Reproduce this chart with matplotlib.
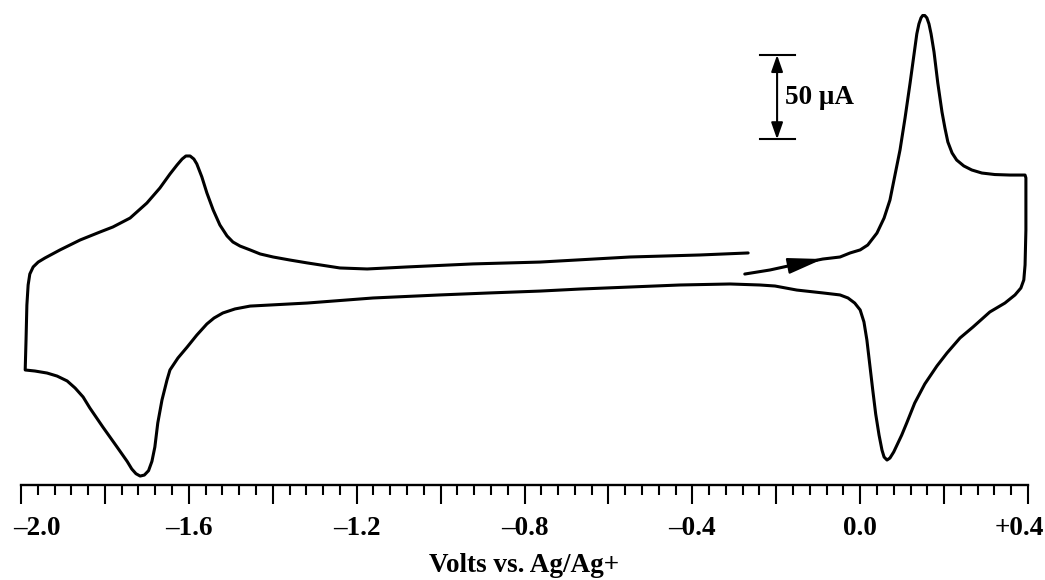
import matplotlib
matplotlib.use("Agg")
import matplotlib.pyplot as plt
from matplotlib.ticker import FixedLocator, FixedFormatter
from matplotlib.patches import ArrowStyle
from matplotlib.transforms import ScaledTranslation

# Cyclic voltammogram, scan order (start near -0.27 V, anodic first)
potential_V = [
    -0.275, -0.215, -0.160, -0.089, -0.048, -0.024, 0.000, 0.018, 0.040, 0.057,
    0.071, 0.083, 0.095, 0.107, 0.119, 0.128, 0.135, 0.140, 0.145, 0.149,
    0.154, 0.159, 0.164, 0.169, 0.176, 0.185, 0.195, 0.202, 0.209, 0.219,
    0.230, 0.247, 0.266, 0.290, 0.321, 0.357, 0.393,
    0.395, 0.395, 0.393, 0.390, 0.383,
    0.369, 0.345, 0.309, 0.269, 0.238, 0.207, 0.183, 0.154, 0.130, 0.111,
    0.099, 0.090, 0.080, 0.071, 0.064, 0.057, 0.052, 0.045, 0.037, 0.030,
    0.023, 0.016, 0.009, 0.000, -0.013, -0.029, -0.048, -0.089, -0.151, -0.203,
    -0.239, -0.310, -0.430, -0.549, -0.668, -0.763, -0.882, -1.002, -1.161, -1.318,
    -1.407, -1.454, -1.490, -1.519, -1.540, -1.557, -1.581, -1.604, -1.626, -1.645,
    -1.652, -1.664, -1.674, -1.681, -1.688, -1.696, -1.706, -1.716, -1.726, -1.736,
    -1.747, -1.771, -1.805, -1.836, -1.852, -1.871, -1.890, -1.914, -1.938, -1.967, -1.990,
    -1.988, -1.986, -1.983, -1.979, -1.971, -1.959, -1.943, -1.907, -1.859, -1.812,
    -1.781, -1.740, -1.700, -1.669, -1.645, -1.628, -1.616, -1.607, -1.597, -1.588,
    -1.581, -1.569, -1.557, -1.542, -1.526, -1.509, -1.495, -1.478, -1.454, -1.430,
    -1.399, -1.359, -1.318, -1.240, -1.175, -1.080, -0.923, -0.763, -0.549, -0.382,
    -0.267,
]
current_uA = [
    -2.4, 0.0, 3.0, 6.5, 7.7, 10.1, 11.9, 14.8, 21.9, 30.8,
    41.5, 56.3, 71.2, 90.2, 110.9, 127.5, 140.0, 145.9, 149.5, 150.9,
    150.9, 149.5, 145.9, 140.0, 129.3, 110.9, 93.7, 84.2, 75.9, 69.4,
    65.2, 61.7, 59.3, 57.5, 56.6, 56.3, 56.3,
    54.6, 23.7, 3.0, -5.9, -10.7,
    -14.8, -19.6, -24.9, -33.8, -40.3, -49.2, -56.9, -67.6, -78.9, -90.7,
    -97.9, -102.6, -107.9, -111.5, -112.7, -110.9, -106.8, -97.9, -85.4, -71.2,
    -56.3, -41.5, -30.8, -23.7, -19.6, -16.6, -14.8, -13.6, -11.9, -9.5,
    -8.9, -8.3, -8.9, -10.1, -11.3, -12.5, -13.6, -14.8, -16.6, -19.6,
    -20.8, -21.4, -23.1, -25.5, -28.5, -32.0, -38.6, -45.7, -52.2, -59.3,
    -65.2, -77.1, -90.7, -105.0, -113.5, -119.0, -121.6, -122.2, -120.8, -118.0,
    -113.5, -105.0, -93.1, -81.8, -75.3, -70.0, -65.8, -62.9, -61.1, -59.9, -59.3,
    -41.5, -20.8, -8.9, -2.4, 1.8, 4.7, 7.1, 11.9, 17.8, 22.5,
    25.5, 30.8, 39.7, 48.6, 56.9, 62.3, 65.8, 67.6, 67.6, 65.8,
    62.9, 55.2, 45.7, 35.6, 26.7, 20.2, 16.6, 14.2, 11.9, 9.5,
    7.7, 5.9, 4.2, 1.2, 0.6, 1.8, 3.6, 4.7, 7.7, 8.9,
    10.1,
]

major_ticks = [-2.0, -1.8, -1.6, -1.4, -1.2, -1.0, -0.8, -0.6, -0.4, -0.2, 0.0, 0.2, 0.4]
major_labels = ["\u20132.0", "", "\u20131.6", "", "\u20131.2", "", "\u20130.8", "",
                "\u20130.4", "", "0.0", "", "+0.4"]
minor_ticks = [round(-2.0 + 0.04 * i, 2) for i in range(61)]
x_label = "Volts vs. Ag/Ag+"
scale_text = "50 \u03bcA"
scale_current = 50.0

plt.rcParams['font.family'] = ['Liberation Serif', 'DejaVu Serif']

fig = plt.figure(figsize=(10.45, 5.8), dpi=100)
ax = fig.add_axes([21 / 1045, 95 / 580, 1007 / 1045, 485 / 580])
ax.set_xlim(-2.0, 0.4)
ax.set_ylim(-127.5, 160.1)

ax.plot(potential_V, current_uA, color='black', lw=2.2, solid_joinstyle='round',
        solid_capstyle='round')

# direction arrow on trace
ax.annotate("", xy=(potential_V[3], current_uA[3]), xytext=(potential_V[2], current_uA[2]),
            arrowprops=dict(arrowstyle=ArrowStyle('-|>', head_length=2.2, head_width=0.5),
                            mutation_scale=10, color='black', lw=1.5,
                            shrinkA=0, shrinkB=0))

# scale bar
bar_x = -0.198
bar_top = 127.5
bar_bot = bar_top - scale_current
ax.annotate("", xy=(bar_x, bar_top), xytext=(bar_x, bar_bot),
            arrowprops=dict(arrowstyle=ArrowStyle('<|-|>', head_length=1.0, head_width=0.35),
                            mutation_scale=10, color='black', lw=1.5,
                            shrinkA=0, shrinkB=0))
ax.plot([-0.239, -0.155], [bar_top, bar_top], color='black', lw=1.5)
ax.plot([-0.239, -0.155], [bar_bot, bar_bot], color='black', lw=1.5)
ax.text(-0.180, (bar_top + bar_bot) / 2, scale_text, fontsize=19.5, fontweight='bold',
        ha='left', va='center')

for s in ['top', 'left', 'right']:
    ax.spines[s].set_visible(False)
ax.spines['bottom'].set_linewidth(1.7)
ax.set_yticks([])
ax.xaxis.set_major_locator(FixedLocator(major_ticks))
ax.xaxis.set_major_formatter(FixedFormatter(major_labels))
ax.xaxis.set_minor_locator(FixedLocator(minor_ticks))
ax.tick_params(axis='x', which='major', direction='out', length=14, width=1.5,
               pad=8, labelsize=19.5)
ax.tick_params(axis='x', which='minor', direction='out', length=7, width=1.5)
for lab in ax.get_xticklabels():
    lab.set_fontweight('bold')
ax.set_xlabel(x_label, fontsize=19.5, fontweight='bold', labelpad=9)

ticks = ax.xaxis.get_major_ticks()
t0 = ticks[0].label1
t0.set_transform(t0.get_transform() + ScaledTranslation(0.16, 0, fig.dpi_scale_trans))
tl = ticks[-1].label1
tl.set_transform(tl.get_transform() + ScaledTranslation(-0.09, 0, fig.dpi_scale_trans))

fig.savefig("out.png", dpi=100)
